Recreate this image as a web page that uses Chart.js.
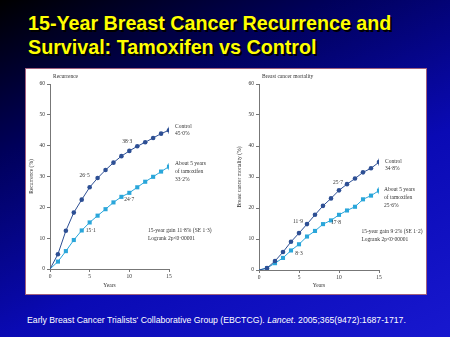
<!DOCTYPE html>
<html>
<head>
<meta charset="utf-8">
<script src="https://cdn.jsdelivr.net/npm/chart.js@4"></script>
<style>
  html, body { margin: 0; padding: 0; }
  body {
    width: 450px; height: 337px; overflow: hidden; position: relative;
    background: linear-gradient(155deg, #000000 0%, #00005a 28%, #0a0ab4 62%, #1818cf 100%);
    font-family: "Liberation Sans", Arial, sans-serif;
  }
  h1 {
    position: absolute; left: 28px; top: 11px; margin: 0;
    font-size: 19.7px; line-height: 24px; font-weight: bold;
    color: #ffff00; text-shadow: 2px 2px 0 #000;
    white-space: nowrap;
  }
  #panel {
    position: absolute; left: 25px; top: 68px; width: 402px; height: 227px;
    box-sizing: border-box; background: #fff; border: 1.5px solid #a0607e;
  }
  canvas { position: absolute; top: 68px; }
  #recurrence { left: 25px; }
  #mortality { left: 226px; }
  #cite {
    position: absolute; left: 27px; top: 314px; margin: 0;
    font-size: 8.7px; line-height: 12px; color: #fff; white-space: nowrap;
  }
</style>
</head>
<body>
<h1>15-Year Breast Cancer Recurrence and<br>Survival: Tamoxifen vs Control</h1>
<div id="panel"></div>
<canvas id="recurrence" width="200" height="227"></canvas>
<canvas id="mortality" width="200" height="227"></canvas>
<p id="cite">Early Breast Cancer Trialists' Collaborative Group (EBCTCG). <i>Lancet</i>. 2005;365(9472):1687-1717.</p>

<script>
// years since randomisation
const years = [0, 1, 2, 3, 4, 5, 6, 7, 8, 9, 10, 11, 12, 13, 14, 15];

// recurrence (%)
const recControl = [0, 4.8, 12.4, 18.3, 22.5, 26.5, 29.5, 32.1, 34.5, 36.6, 38.3, 39.8, 41.1, 42.5, 43.9, 45.0];
const recTamox = [0, 2.4, 5.8, 9.4, 12.5, 15.1, 17.3, 19.4, 21.6, 23.4, 24.7, 26.5, 28.3, 29.9, 31.6, 33.2];

// breast cancer mortality (%)
const mortControl = [0, 0.6, 2.9, 5.8, 9.1, 11.9, 14.8, 17.8, 20.7, 23.1, 25.7, 27.7, 29.5, 31.5, 32.8, 34.8];
const mortTamox = [0, 0.6, 2.2, 3.9, 6.3, 8.3, 10.8, 12.6, 14.8, 16.0, 17.8, 19.2, 20.4, 22.8, 24.0, 25.6];

const yTicks = [0, 10, 20, 30, 40, 50, 60];
const xTicks = [0, 5, 10, 15];

const DARK = "#2d4f94";
const LIGHT = "#2aa6da";
const INK = "#333";
const SMALL = '5.5px "Liberation Serif", serif';

const fmt = (v) => v.toFixed(1).replace(".", "·");
const pts = (vals) => years.map((yr, i) => ({ x: yr, y: vals[i] }));
const last = years.length - 1;

// text drawn on top of the plot: panel heading, value labels, end labels
const notesPlugin = {
  id: "notes",
  afterDatasetsDraw(chart, args, opts) {
    const { ctx, chartArea } = chart;
    const sx = chart.scales.x, sy = chart.scales.y;
    ctx.save();
    ctx.fillStyle = INK;
    ctx.font = SMALL;
    ctx.textBaseline = "middle";
    ctx.textAlign = "left";
    ctx.fillText(opts.heading, chartArea.left + 3, chartArea.top - 7);
    opts.items.forEach((n) => {
      ctx.textAlign = n.align || "left";
      const px = sx.getPixelForValue(n.x) + (n.dx || 0);
      const py = sy.getPixelForValue(n.y) + (n.dy || 0);
      [].concat(n.text).forEach((line, k) => ctx.fillText(line, px, py + k * 7.8));
    });
    ctx.restore();
  },
};

function series(vals, color, style, r) {
  return {
    data: pts(vals),
    borderColor: color,
    backgroundColor: color,
    borderWidth: 1,
    pointStyle: style,
    pointRadius: (c) => (c.dataIndex === 0 ? 0 : r),
    pointBorderWidth: 0,
    tension: 0,
  };
}

function endBar(vals, color) {
  return {
    data: [{ x: years[last], y: vals[last] }],
    borderColor: color,
    backgroundColor: color,
    borderWidth: 1,
    pointStyle: "line",
    pointRotation: 90,
    pointRadius: 3.5,
    pointBorderWidth: 1,
    showLine: false,
  };
}

function axis(extra) {
  return Object.assign(
    {
      type: "linear",
      grid: { display: true, drawOnChartArea: false, drawTicks: true, tickLength: 3, color: "#777" },
      border: { display: true, color: "#777", width: 1 },
    },
    extra
  );
}

function makeChart(id, cfg) {
  return new Chart(document.getElementById(id), {
    type: "line",
    data: {
      datasets: [
        series(cfg.control, DARK, "circle", 2.3),
        series(cfg.tamox, LIGHT, "rect", 2.9),
        endBar(cfg.control, DARK),
        endBar(cfg.tamox, LIGHT),
      ],
    },
    options: {
      responsive: false,
      animation: false,
      layout: { padding: { top: 16, right: cfg.padRight, left: 0, bottom: 0 } },
      plugins: {
        legend: { display: false },
        tooltip: { enabled: false },
        notes: { heading: cfg.heading, items: cfg.notes },
      },
      scales: {
        x: axis({
          min: 0, max: 15,
          afterBuildTicks: (s) => { s.ticks = xTicks.map((v) => ({ value: v })); },
          ticks: { color: INK, font: { family: "Liberation Serif", size: 5.5 }, padding: 1, maxRotation: 0 },
          title: { display: true, text: "Years", color: INK, font: { family: "Liberation Serif", size: 5.5 }, padding: { top: 0, bottom: 6 } },
          afterFit: (s) => { s.height = cfg.xHeight; },
        }),
        y: axis({
          min: 0, max: 60,
          afterBuildTicks: (s) => { s.ticks = yTicks.map((v) => ({ value: v })); },
          ticks: { color: INK, font: { family: "Liberation Serif", size: 5.5 }, padding: 2 },
          title: { display: true, text: cfg.yTitle, color: INK, font: { family: "Liberation Serif", size: 5.5 }, padding: { top: cfg.yTitlePad, bottom: 0 } },
          afterFit: (s) => { s.width = cfg.yWidth; },
        }),
      },
    },
    plugins: [notesPlugin],
  });
}

makeChart("recurrence", {
  control: recControl,
  tamox: recTamox,
  heading: "Recurrence",
  yTitle: "Recurrence (%)",
  yWidth: 25,
  yTitlePad: 3.5,
  xHeight: 26,
  padRight: 56,
  notes: [
    { x: 5, y: recControl[5], dx: 0, dy: -12, align: "right", text: fmt(recControl[5]) },
    { x: 10, y: recControl[10], dx: -2, dy: -9, align: "center", text: fmt(recControl[10]) },
    { x: 5, y: recTamox[5], dx: 1, dy: 8, align: "center", text: fmt(recTamox[5]) },
    { x: 10, y: recTamox[10], dx: 0, dy: 7, align: "center", text: fmt(recTamox[10]) },
    { x: 15, y: recControl[last], dx: 6, dy: -4, text: ["Control", fmt(recControl[last]) + "%"] },
    { x: 15, y: recTamox[last], dx: 6, dy: -3, text: ["About 5 years", "of tamoxifen", fmt(recTamox[last]) + "%"] },
    { x: 12.35, y: 12.4, text: ["15-year gain " + fmt(recControl[last] - recTamox[last]) + "% (SE 1·3)", "Logrank 2p<0·00001"] },
  ],
});

makeChart("mortality", {
  control: mortControl,
  tamox: mortTamox,
  heading: "Breast cancer mortality",
  yTitle: "Breast cancer mortality (%)",
  yWidth: 33,
  yTitlePad: 10,
  xHeight: 25,
  padRight: 47,
  notes: [
    { x: 5, y: mortControl[5], dx: -1, dy: -12, align: "center", text: fmt(mortControl[5]) },
    { x: 5, y: mortTamox[5], dx: 0, dy: 9, align: "center", text: fmt(mortTamox[5]) },
    { x: 10, y: mortControl[10], dx: -1, dy: -8, align: "center", text: fmt(mortControl[10]) },
    { x: 10, y: mortTamox[10], dx: -3, dy: 8, align: "center", text: fmt(mortTamox[10]) },
    { x: 15, y: mortControl[last], dx: 6, dy: -1, text: ["Control", fmt(mortControl[last]) + "%"] },
    { x: 15, y: mortTamox[last], dx: 5, dy: -1, text: ["About 5 years", "of tamoxifen", fmt(mortTamox[last]) + "%"] },
    { x: 12.8, y: 12.4, text: ["15-year gain " + fmt(mortControl[last] - mortTamox[last]) + "% (SE 1·2)", "Logrank 2p<0·00001"] },
  ],
});
</script>
</body>
</html>
